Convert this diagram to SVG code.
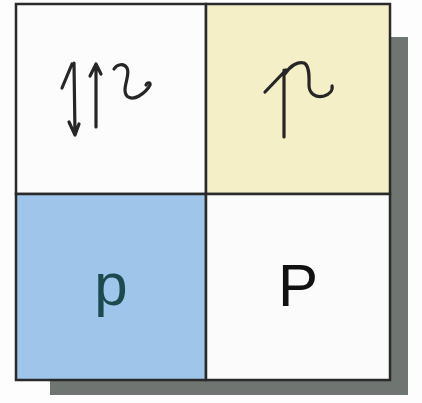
<svg xmlns="http://www.w3.org/2000/svg" width="422" height="403" viewBox="0 0 422 403">
<defs>
<style>
.cell{stroke:#2a2a2a;stroke-width:2.5}
.hand{fill:none;stroke:#262626;stroke-width:3.2;stroke-linecap:round;stroke-linejoin:round}
.lbl{font-family:"Liberation Sans",Arial,sans-serif;font-size:60px;text-anchor:middle}
</style>
</defs>
<rect width="422" height="403" fill="#fdfdfd"/>
<g id="shadow" fill="#6f7672">
<rect x="390" y="37" width="18" height="358"/>
<rect x="50" y="380" width="358" height="15"/>
</g>
<g id="cell-tl">
<rect class="cell" x="16" y="4" width="190" height="190" fill="#fcfcfc"/>
<path class="hand" d="M62,88 L72,64 M74,63 L75,135 M69,122 L75,135 L79,124"/>
<path class="hand" d="M96,66 L96,127 M90,76 L96,64 L101,74"/>
<path class="hand" stroke="#7a7a7a" stroke-width="4.5" d="M114,69 C117,64 124,63 127,68 C130,74 125,82 125,90 C125,98 132,100 139,96 C144,93 148,89 150,85 C151,82 147,82 146,85"/>
</g>
<g id="cell-tr">
<rect class="cell" x="206" y="4" width="184" height="190" fill="#f4efc6"/>
<path class="hand" stroke-width="3.8" d="M265,92 L286,70 M284,70 L284,137 M285,74 C290,66 298,61 304,63 C310,66 309,78 309,85 C309,94 316,98 324,96 C330,94 333,90 332,86"/>
</g>
<g id="cell-bl">
<rect class="cell" x="16" y="194" width="190" height="186" fill="#9fc5ea"/>
<text class="lbl" x="111" y="305" fill="#1c4a4e">p</text>
</g>
<g id="cell-br">
<rect class="cell" x="206" y="194" width="184" height="186" fill="#fbfbfb"/>
<text class="lbl" x="298" y="306" fill="#111">P</text>
</g>
</svg>
